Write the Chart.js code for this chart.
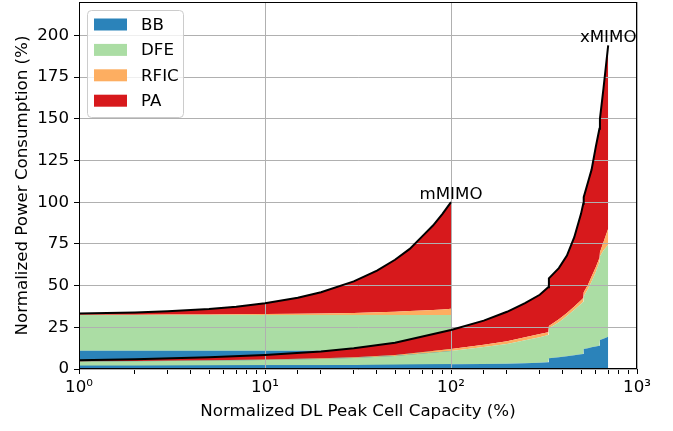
<!DOCTYPE html>
<html>
<head>
<meta charset="utf-8">
<script src="https://cdn.jsdelivr.net/npm/chart.js@4.4.0/dist/chart.umd.min.js"></script>
<style>
  html, body { margin: 0; padding: 0; background: #fff; }
  #contenedor { width: 673px; height: 431px; }
</style>
</head>
<body>
<div id="contenedor"><canvas id="grafica"></canvas></div>
<script>
// components, stacked from bottom to top
var componentes = ['BB', 'DFE', 'RFIC', 'PA'];
var colores = ['#2b83ba', '#abdda4', '#fdae61', '#d7191c'];

// mMIMO: normalized DL peak cell capacity (%) and power per component (%)
var capM  = [1, 2, 3, 5, 7, 10, 15, 20, 30, 40, 50, 60, 70, 80, 90, 100];
var bbM   = [11, 11, 11, 11, 11, 11, 11, 11, 11, 11, 11, 11, 11, 11, 11, 11];
var dfeM  = [21.3, 21.3, 21.3, 21.3, 21.3, 21.3, 21.3, 21.3, 21.3, 21.3, 21.3, 21.3, 21.3, 21.3, 21.3, 21.3];
var rficM = [0.2, 0.2, 0.3, 0.4, 0.5, 0.6, 0.8, 1.0, 1.3, 1.7, 2.0, 2.4, 2.7, 3.1, 3.4, 3.8];
var paM   = [0.7, 1.4, 2.0, 3.3, 4.5, 6.5, 9.6, 12.7, 18.9, 25.0, 31.2, 37.3, 44.5, 50.6, 57.3, 63.9];

// xMIMO
var capX  = [1, 2, 5, 10, 20, 30, 50, 100, 150, 200, 250, 300, 333, 336, 380, 420, 460, 500, 514, 517, 545, 570, 600, 628, 632, 660, 700];
var bbX   = [2.0, 2.0, 2.1, 2.2, 2.3, 2.4, 2.5, 2.8, 3.0, 3.2, 3.4, 3.7, 4.0, 6.4, 7.0, 7.6, 8.2, 8.8, 9.0, 12.0, 12.5, 13.0, 13.5, 14.0, 17.4, 18.2, 19.3];
var dfeX  = [2.4, 2.6, 2.9, 3.2, 3.7, 4.2, 5.3, 8.0, 10.2, 11.8, 13.8, 15.3, 16.4, 18.0, 21.0, 24.2, 27.3, 30.2, 31.3, 31.5, 35.5, 39.5, 44.5, 50.0, 50.1, 52.8, 55.2];
var rficX = [0.2, 0.2, 0.3, 0.3, 0.4, 0.5, 0.6, 1.2, 1.4, 1.6, 1.8, 2.0, 1.6, 1.4, 1.8, 1.8, 2.0, 2.2, 2.2, 2.5, 2.5, 3.0, 3.0, 2.5, 2.5, 5.0, 9.5];
var paX   = [0.7, 1.1, 1.7, 2.7, 4.1, 5.3, 7.4, 11.4, 14.4, 17.7, 20.5, 23.5, 27.0, 28.5, 30.7, 34.4, 41.5, 51.8, 56.5, 57.0, 61.5, 64.0, 72.0, 77.5, 80.0, 92.0, 110.0];

var nombres = ['mMIMO', 'xMIMO'];
var ticksY = [0, 25, 50, 75, 100, 125, 150, 175, 200];
var superind = {0: '\u2070', 1: '\u00b9', 2: '\u00b2', 3: '\u00b3'};

var fuente = 'DejaVu Sans';
var tam = 16.67;

// builds the stacked areas + black outline for one configuration
function grupo(cap, partes, inicio) {
  var sets = [];
  var acum = cap.map(function () { return 0; });
  partes.forEach(function (p, k) {
    acum = acum.map(function (v, i) { return v + p[i]; });
    sets.push({
      label: componentes[k],
      data: cap.map(function (c, i) { return { x: c, y: acum[i] }; }),
      backgroundColor: colores[k],
      borderColor: 'rgba(0,0,0,0)',
      borderWidth: 0,
      pointRadius: 0,
      fill: k === 0 ? 'origin' : inicio + k - 1
    });
  });
  sets.push({
    label: 'total',
    data: cap.map(function (c, i) { return { x: c, y: acum[i] }; }),
    borderColor: '#000',
    borderWidth: 2,
    pointRadius: 0,
    fill: false
  });
  return sets;
}

var dsX = grupo(capX, [bbX, dfeX, rficX, paX], 0);
var dsM = grupo(capM, [bbM, dfeM, rficM, paM], dsX.length);
var datasets = dsX.concat(dsM);

var extras = {
  id: 'extras',
  beforeDatasetsDraw: function (chart) {
    // grid sits on top of the filled areas
    chart.scales.x.drawGrid(chart.chartArea);
    chart.scales.y.drawGrid(chart.chartArea);
  },
  afterDraw: function (chart) {
    var ctx = chart.ctx, a = chart.chartArea;
    var sx = chart.scales.x, sy = chart.scales.y;
    ctx.save();

    // frame
    ctx.strokeStyle = '#000';
    ctx.lineWidth = 1;
    ctx.strokeRect(a.left + 0.5, a.top + 0.5, a.right - a.left - 1, a.bottom - a.top - 1);

    // labels at the end of each outline
    ctx.font = tam + 'px "' + fuente + '"';
    ctx.fillStyle = '#000';
    ctx.textAlign = 'center';
    ctx.textBaseline = 'alphabetic';
    [dsM[4], dsX[4]].forEach(function (d, i) {
      var p = d.data[d.data.length - 1];
      ctx.fillText(nombres[i], sx.getPixelForValue(p.x), sy.getPixelForValue(p.y) - 3);
    });

    // legend
    var lx = a.left + 8, ly = a.top + 8, lw = 96, lh = 107;
    ctx.beginPath();
    ctx.roundRect(lx + 0.5, ly + 0.5, lw, lh, 4);
    ctx.fillStyle = 'rgba(255,255,255,0.8)';
    ctx.fill();
    ctx.strokeStyle = '#cccccc';
    ctx.stroke();
    ctx.textAlign = 'left';
    ctx.textBaseline = 'middle';
    componentes.forEach(function (c, k) {
      var cy = ly + 14.5 + k * 25.4;
      ctx.fillStyle = colores[k];
      ctx.fillRect(lx + 7, cy - 6, 33, 12);
      ctx.fillStyle = '#000';
      ctx.fillText(c, lx + 54, cy + 1);
    });
    ctx.restore();
  }
};

Chart.defaults.font.family = fuente;
Chart.defaults.font.size = tam;
Chart.defaults.color = '#000';

var grafica = new Chart(document.getElementById('grafica'), {
  type: 'line',
  data: { datasets: datasets },
  options: {
    responsive: true,
    maintainAspectRatio: false,
    animation: false,
    layout: { padding: { top: 2, right: 36, left: 0, bottom: 0 } },
    plugins: {
      legend: { display: false },
      tooltip: { enabled: false },
      filler: { drawTime: 'beforeDatasetsDraw' }
    },
    scales: {
      x: {
        type: 'logarithmic',
        min: 1,
        max: 1000,
        afterFit: function (s) { s.height = 62; },
        border: { color: '#000', width: 1 },
        grid: {
          color: function (c) {
            var v = c.tick ? c.tick.value : 0;
            return Math.abs(Math.log10(v) - Math.round(Math.log10(v))) < 1e-9 ? '#b0b0b0' : 'rgba(0,0,0,0)';
          },
          tickColor: '#000',
          tickLength: 5,
          lineWidth: 1
        },
        ticks: {
          autoSkip: false,
          maxRotation: 0,
          padding: 4,
          color: '#000',
          callback: function (v) {
            var e = Math.log10(v);
            if (Math.abs(e - Math.round(e)) < 1e-9) return '10' + superind[Math.round(e)];
            return '';
          }
        },
        title: {
          display: true,
          text: 'Normalized DL Peak Cell Capacity (%)',
          color: '#000',
          padding: { top: 0, bottom: 9 }
        }
      },
      y: {
        type: 'linear',
        min: 0,
        max: 220,
        afterFit: function (s) { s.width = 79; s.paddingTop = 0; s.paddingBottom = 0; },
        afterBuildTicks: function (s) { s.ticks = ticksY.map(function (v) { return { value: v }; }); },
        border: { color: '#000', width: 1 },
        grid: { color: '#b0b0b0', tickColor: '#000', tickLength: 5, lineWidth: 1 },
        ticks: { padding: 5, color: '#000', includeBounds: false },
        title: {
          display: true,
          text: 'Normalized Power Consumption (%)',
          color: '#000',
          padding: { top: 13, bottom: 0 }
        }
      }
    }
  },
  plugins: [extras]
});
</script>
</body>
</html>
